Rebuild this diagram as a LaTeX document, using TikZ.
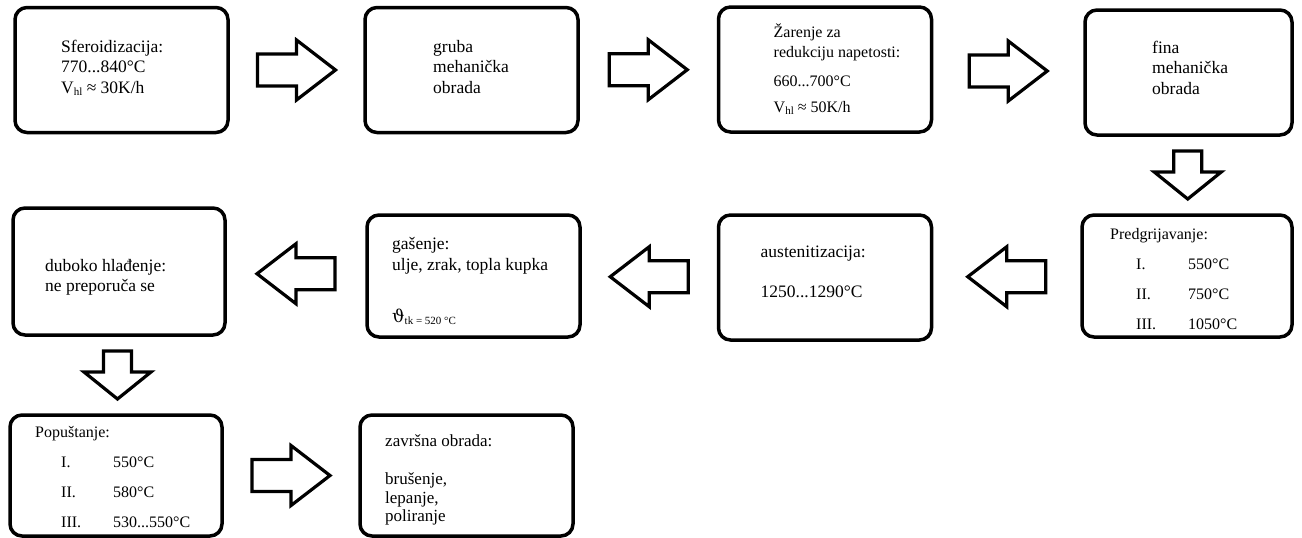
\documentclass[tikz,border=0pt]{standalone}
\usepackage{fontspec}
\setmainfont{Liberation Serif}
\newfontfamily\thetafont{DejaVu Serif}
\usepackage{tikz}
\usetikzlibrary{calc}
\tikzset{stepbox/.style={draw,line width=3.5pt,rounded corners=12pt,minimum width=213pt,minimum height=125pt,inner sep=0pt,outer sep=0pt}}
\tikzset{steptext/.style={anchor=west,align=left,inner sep=0pt,font=\fontsize{17.5}{20.5}\selectfont}}
\tikzset{smalltext/.style={steptext,font=\fontsize{16}{20}\selectfont}}
\tikzset{listtext/.style={steptext,font=\fontsize{16}{30}\selectfont}}
\tikzset{pics/flowarrow/.style n args={4}{code={
	\draw[line width=3.2pt,line join=miter] (-#1/2,-#2/2) -- (#1/2-#4,-#2/2) -- (#1/2-#4,-#3/2) -- (#1/2,0)
		-- (#1/2-#4,#3/2) -- (#1/2-#4,#2/2) -- (-#1/2,#2/2) -- cycle;}}}
\newcommand{\lowidx}[1]{\raisebox{-2pt}{\fontsize{11}{11}\selectfont #1}}
\newcommand{\heatrow}[2]{\hspace*{26pt}\makebox[52pt][l]{#1}#2}

\begin{document}
\begin{tikzpicture}[x=1pt,y=1pt]
	\useasboundingbox (0,0) rectangle (1302,-538);
	\node[stepbox] (sfer) at (121.5,-70) {};
	\node[stepbox] (gruba) at (471.5,-70) {};
	\node[stepbox] (zarenje) at (825,-69.5) {};
	\node[stepbox,minimum width=207pt] (fina) at (1188.5,-72.5) {};
	\node[stepbox,minimum width=210pt,minimum height=122pt] (predgr) at (1187,-276) {};
	\node[stepbox] (austen) at (825,-277.5) {};
	\node[stepbox,minimum height=122pt] (gasenje) at (473.5,-276) {};
	\node[stepbox,minimum width=212pt,minimum height=127pt] (duboko) at (119,-271.5) {};
	\node[stepbox,minimum width=212pt,minimum height=121pt] (popust) at (116,-475.5) {};
	\node[stepbox,minimum height=121pt] (zavrsna) at (466.5,-475.5) {};
	%
	\node[steptext] (sferT) at ([xshift=46pt,yshift=2.5pt]sfer.west) {Sferoidizacija:\\770...840°C\\V\lowidx{hl} ≈ 30K/h};
	\node[steptext] (grubaT) at ([xshift=68pt,yshift=3pt]gruba.west) {gruba\\mehanička\\obrada};
	\node[smalltext] (zarenjeT) at ([xshift=55pt]zarenje.west) {Žarenje za\\redukciju napetosti:\\[9pt]660...700°C\\[6pt]V\lowidx{hl} ≈ 50K/h};
	\node[steptext] (finaT) at ([xshift=67pt,yshift=5pt]fina.west) {fina\\mehanička\\obrada};
	\node[listtext] (predgrT) at ([xshift=28pt,yshift=-3pt]predgr.west) {Predgrijavanje:\\\heatrow{I.}{550°C}\\\heatrow{II.}{750°C}\\\heatrow{III.}{1050°C}};
	\node[steptext] (austenT) at ([xshift=42pt,yshift=5.5pt]austen.west) {austenitizacija:\\[19.5pt]1250...1290°C};
	\node[steptext] (gasenjeT) at ([xshift=25pt,yshift=-5pt]gasenje.west) {gašenje:\\ulje, zrak, topla kupka\\[32pt]{\thetafont ϑ}\lowidx{tk = 520 °C}};
	\node[steptext] (dubokoT) at ([xshift=32pt,yshift=-6pt]duboko.west) {duboko hlađenje:\\ne preporuča se};
	\node[listtext] (popustT) at ([xshift=25pt,yshift=-2pt]popust.west) {Popuštanje:\\\heatrow{I.}{550°C}\\\heatrow{II.}{580°C}\\\heatrow{III.}{530...550°C}};
	\node[steptext,font=\fontsize{17}{18.5}\selectfont] (zavrsnaT) at ([xshift=25pt,yshift=-4.5pt]zavrsna.west) {završna obrada:\\[20pt]brušenje,\\lepanje,\\poliranje};
	%
	\pic at ($(sfer.east)!.5!(gruba.west)$) {flowarrow={78}{32}{60}{39}};
	\pic at ($(gruba.east)!.5!(zarenje.west)$) {flowarrow={78}{32}{60}{39}};
	\pic at ($(zarenje.east)!.5!(fina.west)$) {flowarrow={78}{32}{60}{39}};
	\pic[rotate=-90] at ($(fina.south)!.5!(predgr.north)$) {flowarrow={48}{28}{67}{27}};
	\pic[rotate=180] at ($(predgr.west)!.5!(austen.east)$) {flowarrow={78}{32}{60}{39}};
	\pic[rotate=180] at ($(austen.west)!.5!(gasenje.east)$) {flowarrow={78}{32}{60}{39}};
	\pic[rotate=180] at ($(gasenje.west)!.5!(duboko.east)$) {flowarrow={78}{32}{60}{39}};
	\pic[rotate=-90] at ($(duboko.south)!.5!(popust.north)$) {flowarrow={48}{28}{67}{27}};
	\pic at ($(popust.east)!.5!(zavrsna.west)$) {flowarrow={78}{32}{60}{39}};
\end{tikzpicture}
\end{document}
